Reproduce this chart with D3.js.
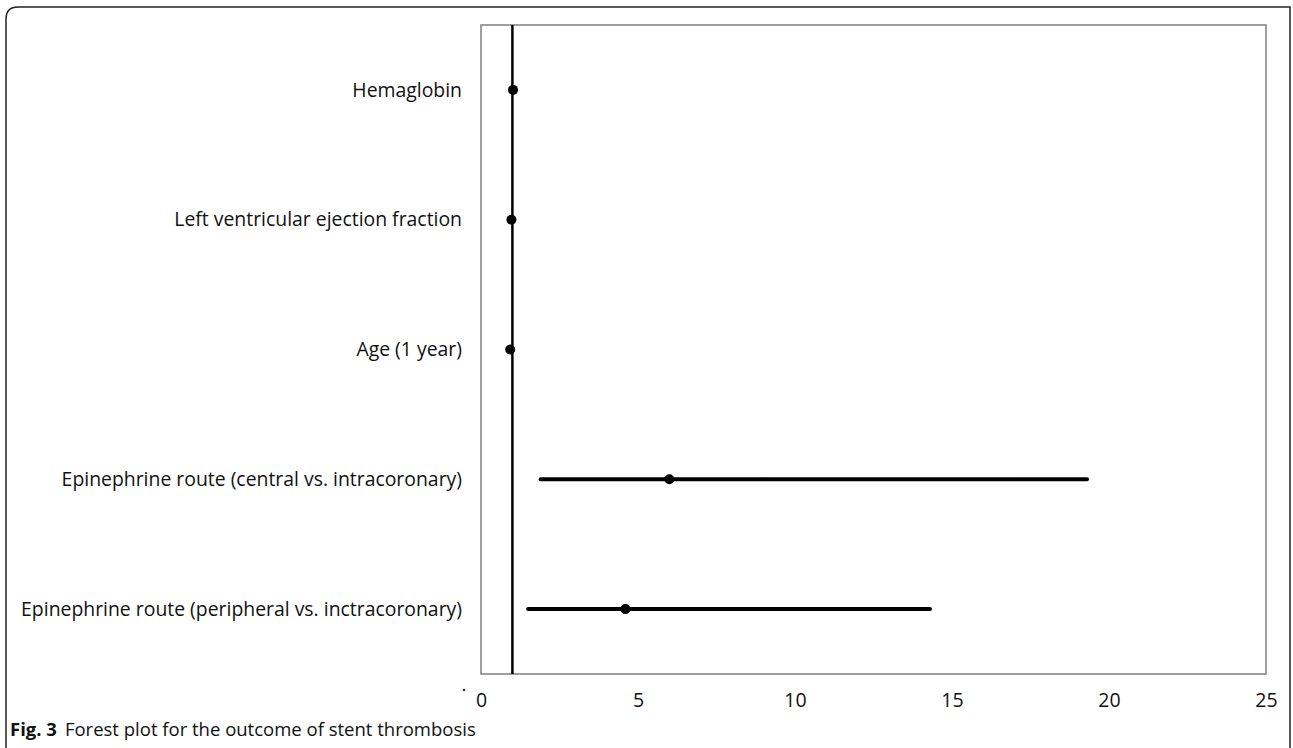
<!DOCTYPE html>
<html>
<head>
<meta charset="utf-8">
<script src="https://cdn.jsdelivr.net/npm/d3@7"></script>
<style>
  body { margin: 0; background: #fff; }
  svg { display: block; }
</style>
</head>
<body>
<div id="chart"></div>
<script>
const categories = [
    "Hemaglobin",
    "Left ventricular ejection fraction",
    "Age (1 year)",
    "Epinephrine route (central vs. intracoronary)",
    "Epinephrine route (peripheral vs. inctracoronary)"
]
const estimates = [1.02, 0.97, 0.93, 6.0, 4.6]
const lower = [1.0, 0.95, 0.91, 1.9, 1.5]
const upper = [1.04, 0.99, 0.95, 19.3, 14.3]
const xTicks = [0, 5, 10, 15, 20, 25]
const refValue = 1
const caption = "Forest plot for the outcome of stent thrombosis"

const width = 1293
const height = 748
const plot = { left: 481, right: 1266, top: 25, bottom: 674 }

const svg = d3.select("#chart").append("svg")
    .attr("width", width)
    .attr("height", height)

// outer figure frame (open at the bottom)
svg.append("path")
    .attr("d", `M6,748 L6,19 Q6,7 18,7 L1290,7 L1290,748`)
    .attr("fill", "none")
    .attr("stroke", "#222")
    .attr("stroke-width", 1.5)

const x = d3.scaleLinear().domain([0, 25]).range([plot.left, plot.right])
const y = d3.scaleBand().domain(categories).range([plot.top, plot.bottom])

const rows = categories.map((c, i) => ({ name: c, est: estimates[i], lo: lower[i], hi: upper[i] }))

// plot area box
svg.append("rect")
    .attr("x", plot.left)
    .attr("y", plot.top)
    .attr("width", plot.right - plot.left)
    .attr("height", plot.bottom - plot.top)
    .attr("fill", "none")
    .attr("stroke", "#808080")
    .attr("stroke-width", 1.5)

// reference line at 1
svg.append("line")
    .attr("x1", x(refValue)).attr("x2", x(refValue))
    .attr("y1", plot.top).attr("y2", plot.bottom)
    .attr("stroke", "#000")
    .attr("stroke-width", 2.5)

const g = svg.append("g").selectAll("g")
    .data(rows)
    .enter().append("g")
    .attr("transform", d => `translate(0,${y(d.name) + y.bandwidth() / 2})`)

g.append("line")
    .attr("x1", d => x(d.lo))
    .attr("x2", d => x(d.hi))
    .attr("stroke", "#000")
    .attr("stroke-width", 4)
    .attr("stroke-linecap", "round")

g.append("circle")
    .attr("cx", d => x(d.est))
    .attr("r", 5)
    .attr("fill", "#000")

g.append("text")
    .attr("x", 462)
    .attr("dy", "0.35em")
    .attr("text-anchor", "end")
    .style("font-family", "'Open Sans', sans-serif")
    .style("font-size", "19.4px")
    .attr("fill", "#111")
    .text(d => d.name)

// x axis labels only
const axis = svg.append("g")
    .attr("transform", `translate(0,${plot.bottom})`)
    .call(d3.axisBottom(x).tickValues(xTicks).tickSize(0).tickPadding(19))
axis.select(".domain").remove()
axis.selectAll("text")
    .style("font-family", "'Open Sans', sans-serif")
    .style("font-size", "19.5px")
    .attr("fill", "#111")

// stray dot left of the axis
svg.append("circle")
    .attr("cx", 464).attr("cy", 690).attr("r", 1.3).attr("fill", "#333")

const cap = svg.append("text")
    .attr("x", 10)
    .attr("y", 736)
    .style("font-family", "'Open Sans', sans-serif")
    .style("font-size", "18.5px")
    .attr("fill", "#111")
cap.append("tspan").style("font-weight", "bold").text("Fig. 3")
cap.append("tspan").attr("dx", 8).text(caption)
</script>
</body>
</html>
